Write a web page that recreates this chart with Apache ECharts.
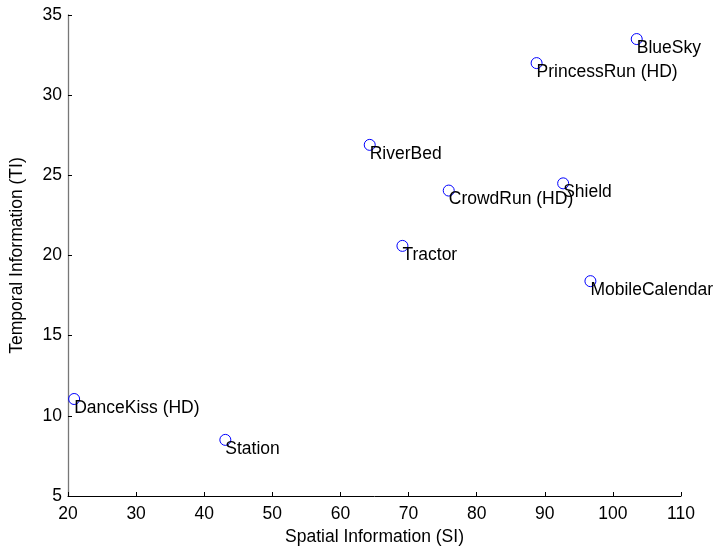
<!DOCTYPE html>
<html style="height: 100%">
<head>
<meta charset="utf-8">
</head>
<body style="height: 100%; margin: 0">
<div id="container" style="width: 714px; height: 548px"></div>
<script type="text/javascript" src="https://cdn.jsdelivr.net/npm/echarts@6/dist/echarts.min.js"></script>
<script type="text/javascript">
// sequence names, spatial info (SI) and temporal info (TI)
var names = ['BlueSky', 'PrincessRun (HD)', 'RiverBed', 'CrowdRun (HD)', 'Shield',
             'Tractor', 'MobileCalendar', 'DanceKiss (HD)', 'Station'];
var siValues = [103.5, 88.8, 64.3, 75.9, 92.7, 69.1, 96.7, 20.9, 43.1];
var tiValues = [33.5, 32.0, 26.9, 24.05, 24.5, 20.6, 18.4, 11.05, 8.5];
var xTicks = [20, 110, 10];
var yTicks = [5, 35, 5];

var chart = echarts.init(document.getElementById('container'));

var points = names.map(function (n, i) {
    return { name: n, value: [siValues[i], tiValues[i]] };
});

var font = 'Liberation Sans, Arial, sans-serif';

var option = {
    animation: false,
    backgroundColor: '#fff',
    grid: { left: 68, right: 33, top: 15, bottom: 52, outerBoundsMode: 'none', containLabel: false },
    xAxis: {
        type: 'value',
        min: xTicks[0], max: xTicks[1], interval: xTicks[2],
        name: 'Spatial Information (SI)',
        nameLocation: 'middle',
        nameGap: 31,
        nameTextStyle: { color: '#000', fontSize: 17.5, fontFamily: font },
        axisLine: { lineStyle: { color: '#000', width: 1 } },
        axisTick: { inside: true, length: 4, lineStyle: { color: '#000' } },
        axisLabel: { color: '#000', fontSize: 17.5, fontFamily: font, margin: 9 },
        splitLine: { show: false }
    },
    yAxis: {
        type: 'value',
        min: yTicks[0], max: yTicks[1], interval: yTicks[2],
        name: 'Temporal Information (TI)',
        nameLocation: 'middle',
        nameGap: 42,
        nameTextStyle: { color: '#000', fontSize: 17.5, fontFamily: font },
        axisLine: { show: true, lineStyle: { color: '#777', width: 1.3 } },
        axisTick: { show: true, inside: true, length: 4, lineStyle: { color: '#000' } },
        axisLabel: { color: '#000', fontSize: 17.5, fontFamily: font, margin: 6 },
        splitLine: { show: false }
    },
    series: [{
        type: 'scatter',
        data: points,
        symbol: 'circle',
        symbolSize: 11,
        itemStyle: { color: 'rgba(0,0,0,0)', borderColor: '#0000ff', borderWidth: 1, opacity: 1 },
        label: {
            show: true,
            formatter: '{b}',
            position: 'inside',
            align: 'left',
            verticalAlign: 'top',
            offset: [0, 6],
            color: '#000',
            textBorderWidth: 0,
            fontSize: 17.5,
            fontFamily: font
        },
        labelLayout: { hideOverlap: false }
    }]
};

chart.setOption(option);
</script>
</body>
</html>
